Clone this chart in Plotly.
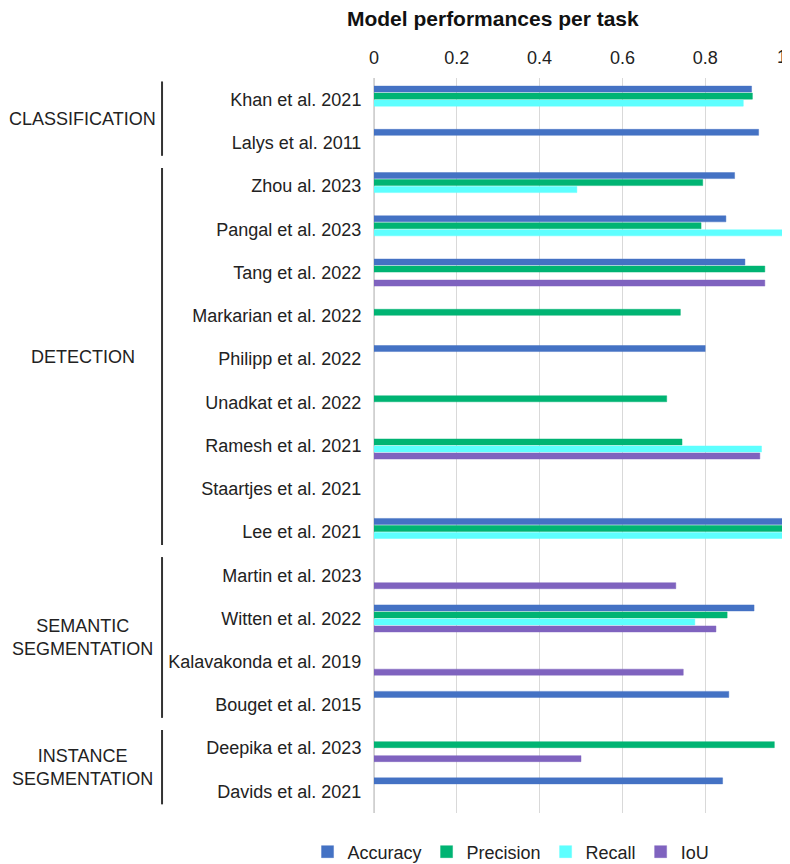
import plotly.graph_objects as go

categories = [
    "Khan et al. 2021", "Lalys et al. 2011", "Zhou al. 2023", "Pangal et al. 2023",
    "Tang et al. 2022", "Markarian et al. 2022", "Philipp et al. 2022", "Unadkat et al. 2022",
    "Ramesh et al. 2021", "Staartjes et al. 2021", "Lee et al. 2021", "Martin et al. 2023",
    "Witten et al. 2022", "Kalavakonda et al. 2019", "Bouget et al. 2015",
    "Deepika et al. 2023", "Davids et al. 2021",
]
tasks = [
    "CLASSIFICATION", "CLASSIFICATION",
    "DETECTION", "DETECTION", "DETECTION", "DETECTION", "DETECTION", "DETECTION",
    "DETECTION", "DETECTION", "DETECTION",
    "SEMANTIC<br>SEGMENTATION", "SEMANTIC<br>SEGMENTATION", "SEMANTIC<br>SEGMENTATION",
    "SEMANTIC<br>SEGMENTATION",
    "INSTANCE<br>SEGMENTATION", "INSTANCE<br>SEGMENTATION",
]
accuracy = [0.912, 0.929, 0.871, 0.850, 0.896, None, 0.800, None, None, None, 0.995,
            None, 0.918, None, 0.857, None, 0.842]
precision = [0.914, None, 0.794, 0.790, 0.944, 0.740, None, 0.707, 0.744, None, 0.990,
             None, 0.853, None, None, 0.967, None]
recall = [0.892, None, 0.490, 0.999, None, None, None, None, 0.936, None, 0.993,
          None, 0.775, None, None, None, None]
iou = [None, None, None, None, 0.944, None, None, None, 0.932, None, None,
       0.729, 0.826, 0.747, None, 0.500, None]
tick_values = [0, 0.2, 0.4, 0.6, 0.8, 1]
tick_labels = ["0", "0.2", "0.4", "0.6", "0.8", "1"]

series = [
    ("Accuracy", accuracy, "#4472c4", "rgba(68,114,196,0.45)"),
    ("Precision", precision, "#00b473", "rgba(0,180,115,0.45)"),
    ("Recall", recall, "#5effff", "rgba(94,255,255,0.45)"),
    ("IoU", iou, "#7f63bf", "rgba(127,99,191,0.45)"),
]

FONT = "Liberation Sans, Arial, sans-serif"

fig = go.Figure()
for name, vals, color, edge in series:
    fig.add_trace(go.Bar(
        name=name, y=categories, x=vals, orientation="h",
        marker=dict(color=color, line=dict(color=edge, width=1)),
    ))

# group brackets and labels
order = []
for t in tasks:
    if t not in order:
        order.append(t)
for t in order:
    idx = [i for i, v in enumerate(tasks) if v == t]
    first, last = idx[0], idx[-1]
    fig.add_shape(type="line", xref="paper", yref="y",
                  x0=-0.512, x1=-0.512, y0=first - 0.42, y1=last + 0.3,
                  line=dict(color="#333333", width=2))
    fig.add_annotation(xref="paper", yref="y", x=-0.703, y=(first + last) / 2 - 0.05,
                       text=t, showarrow=False, xanchor="center", yanchor="middle",
                       font=dict(family=FONT, size=18, color="#222222"))

# last tick label kept inside the page, right-aligned to its gridline
fig.add_annotation(xref="x", yref="paper", x=tick_values[-1], y=1.0286,
                   text=tick_labels[-1], showarrow=False, xanchor="right",
                   yanchor="middle", xshift=1,
                   font=dict(family=FONT, size=18, color="#222222"))

# page has an 8px body margin, so the figure is 8px smaller each way
fig.update_layout(
    width=782, height=856,
    margin=dict(l=366, r=2, t=70, b=51, autoexpand=False),
    paper_bgcolor="white", plot_bgcolor="white",
    barmode="group", bargap=0.352, bargroupgap=0.14,
    font=dict(family=FONT, size=18, color="#222222"),
    title=dict(text="<b>Model performances per task</b>", xref="container", yref="container",
               x=0.620, y=1 - 11 / 856, xanchor="center", yanchor="middle",
               font=dict(family=FONT, size=21, color="#111111")),
    legend=dict(orientation="h", xref="paper", yref="paper", x=0.331, y=-0.053,
                xanchor="center", yanchor="middle",
                font=dict(family=FONT, size=18, color="#222222"),
                itemwidth=30, traceorder="normal"),
    showlegend=True,
)
fig.update_xaxes(side="top", range=[0, 1], automargin=False,
                 tickmode="array", tickvals=tick_values,
                 ticktext=tick_labels[:-1] + [""],
                 showgrid=True, gridcolor="#d9d9d9", gridwidth=1,
                 zeroline=True, zerolinecolor="#d0d0d0", zerolinewidth=2,
                 showline=False, ticks="", ticklabelstandoff=9,
                 tickfont=dict(family=FONT, size=18, color="#222222"))
fig.update_yaxes(autorange="reversed", showgrid=False, ticks="",
                 showline=True, mirror=True, linecolor="#d9d9d9", linewidth=1,
                 automargin=False, ticklabelstandoff=8,
                 tickfont=dict(family=FONT, size=18, color="#222222"))

fig.write_html("out.html")
